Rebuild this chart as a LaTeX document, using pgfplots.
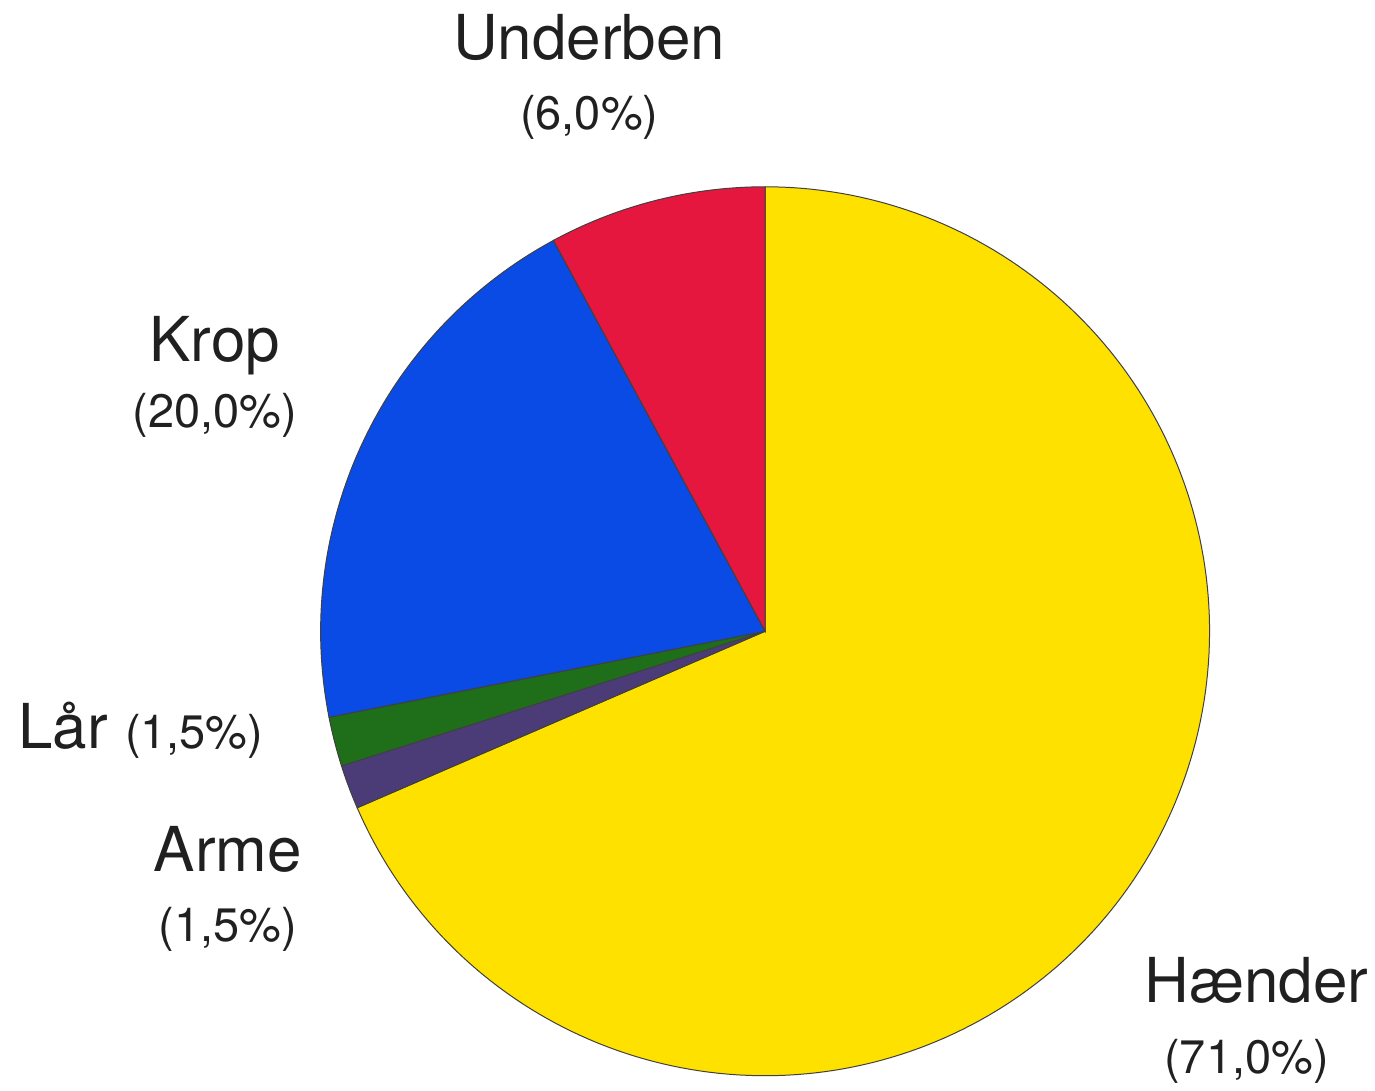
\documentclass[border=0pt]{standalone}
\usepackage{pgfplots}
\pgfplotsset{compat=1.18}
\usepackage{fontspec}
\setmainfont{TeX Gyre Heros}
\definecolor{cYel}{HTML}{FFE100}
\definecolor{cRed}{HTML}{E5173F}
\definecolor{cBlu}{HTML}{0A4BE6}
\definecolor{cGrn}{HTML}{1F6E1A}
\definecolor{cPur}{HTML}{4B3C78}
\definecolor{txt}{HTML}{202020}
% Visual shares (percent) as drawn: Haender 68.5, Arme 1.6, Laar 1.8, Krop 20.2, Underben 7.9
% Wedge angles (degrees) start at 90 and run clockwise
\begin{document}
\begin{tikzpicture}
\begin{axis}[
  x=222.5pt, y=222.5pt,
  xmin=-1.7213, xmax=1.3685, ymin=-1.0202, ymax=1.4202,
  hide axis, clip=false,
]
\path (rel axis cs:0,0) rectangle (rel axis cs:1,1);
% Haender 68.5%
\addplot[fill=cYel, draw=black!75, line width=0.5pt, domain=-156.6:90, samples=200, variable=\t]
  ({cos(\t)},{sin(\t)}) -- (axis cs:0,0) -- cycle;
% Arme 1.6%
\addplot[fill=cPur, draw=black!75, line width=0.5pt, domain=-162.36:-156.6, samples=10, variable=\t]
  ({cos(\t)},{sin(\t)}) -- (axis cs:0,0) -- cycle;
% Laar 1.8%
\addplot[fill=cGrn, draw=black!75, line width=0.5pt, domain=-168.84:-162.36, samples=10, variable=\t]
  ({cos(\t)},{sin(\t)}) -- (axis cs:0,0) -- cycle;
% Krop 20.2%
\addplot[fill=cBlu, draw=black!75, line width=0.5pt, domain=-241.56:-168.84, samples=80, variable=\t]
  ({cos(\t)},{sin(\t)}) -- (axis cs:0,0) -- cycle;
% Underben 7.9%
\addplot[fill=cRed, draw=black!75, line width=0.5pt, domain=-270:-241.56, samples=40, variable=\t]
  ({cos(\t)},{sin(\t)}) -- (axis cs:0,0) -- cycle;
% labels
\node[anchor=base, text=txt, font=\fontsize{31}{36}\selectfont] at (axis cs:-0.3955,1.2854) {Underben};
\node[anchor=base, text=txt, font=\fontsize{23.5}{28}\selectfont] at (axis cs:-0.3955,1.128) {(6,0\%)};
\node[anchor=base, text=txt, font=\fontsize{31}{36}\selectfont] at (axis cs:-1.238,0.6067) {Krop};
\node[anchor=base, text=txt, font=\fontsize{23.5}{28}\selectfont] at (axis cs:-1.238,0.4584) {(20,0\%)};
\node[anchor=base west, inner sep=0pt, text=txt, font=\fontsize{31}{36}\selectfont] at (axis cs:-1.681,-0.2629) {Lår {\fontsize{23.5}{28}\selectfont (1,5\%)}};
\node[anchor=base, text=txt, font=\fontsize{31}{36}\selectfont] at (axis cs:-1.209,-0.5416) {Arme};
\node[anchor=base, text=txt, font=\fontsize{23.5}{28}\selectfont] at (axis cs:-1.209,-0.699) {(1,5\%)};
\node[anchor=base, text=txt, font=\fontsize{31}{36}\selectfont] at (axis cs:1.1056,-0.836) {Hænder};
\node[anchor=base, text=txt, font=\fontsize{23.5}{28}\selectfont] at (axis cs:1.0831,-0.9955) {(71,0\%)};
\end{axis}
\end{tikzpicture}
\end{document}
